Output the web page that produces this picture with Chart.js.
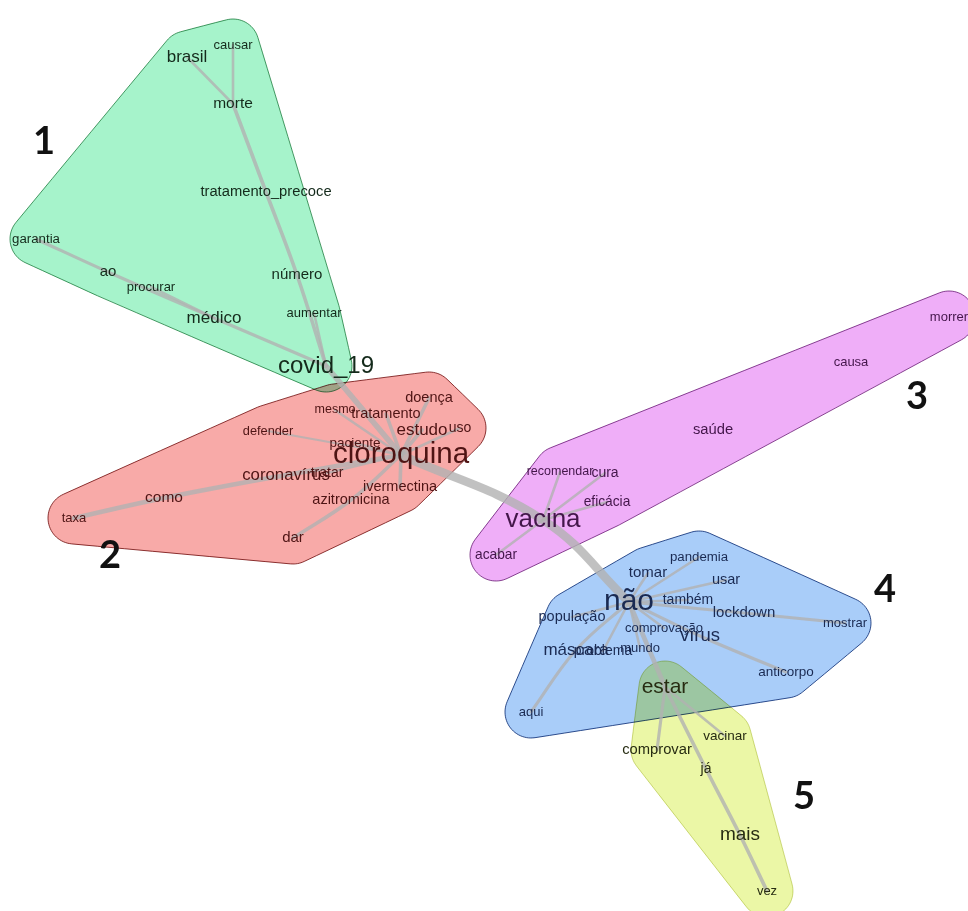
<!DOCTYPE html>
<html>
<head>
<meta charset="utf-8">
<title>Análise de similitude</title>
<script src="https://cdn.jsdelivr.net/npm/chart.js@4/dist/chart.umd.min.js"></script>
<style>
  body { margin: 0; background: #fff; }
  canvas { display: block; }
</style>
</head>
<body>
<canvas id="graph" width="968" height="911"></canvas>
<script>
// words of the similarity graph, their layout position, frequency and community
const words = ['brasil', 'causar', 'morte', 'tratamento_precoce', 'garantia', 'ao', 'procurar', 'médico', 'número', 'aumentar', 'covid_19',
  'taxa', 'como', 'defender', 'mesmo', 'tratamento', 'doença', 'estudo', 'uso', 'paciente', 'cloroquina', 'coronavírus', 'tratar', 'ivermectina', 'azitromicina', 'dar',
  'vacina', 'acabar', 'recomendar', 'cura', 'eficácia', 'saúde', 'causa', 'morrer',
  'não', 'pandemia', 'tomar', 'usar', 'também', 'lockdown', 'população', 'mostrar', 'comprovação', 'vírus', 'máscara', 'problema', 'mundo', 'anticorpo', 'aqui',
  'estar', 'vacinar', 'comprovar', 'já', 'mais', 'vez'];
const wordX = [187, 233, 233, 266, 36, 108, 151, 214, 297, 314, 326,
  74, 164, 268, 335, 386, 429, 422, 460, 355, 401, 286, 327, 400, 351, 293,
  543, 496, 560, 605, 607, 713, 851, 949,
  629, 699, 648, 726, 688, 744, 572, 845, 664, 700, 576, 603, 640, 786, 531,
  665, 725, 657, 706, 740, 767];
const wordY = [57, 45, 104, 192, 239, 272, 287, 318, 275, 313, 366,
  518, 498, 431, 410, 414, 398, 430, 428, 443, 455, 475, 473, 487, 500, 538,
  520, 555, 472, 473, 502, 430, 362, 317,
  602, 557, 573, 580, 600, 613, 617, 623, 628, 636, 650, 651, 648, 672, 712,
  687, 736, 750, 769, 835, 891];
const wordFreq = [44, 28, 38, 35, 29, 36, 28, 44, 36, 28, 72,
  28, 38, 27, 26, 34, 34, 44, 32, 30, 94, 43, 32, 34, 34, 36,
  80, 31, 26, 32, 31, 35, 28, 28,
  96, 29, 36, 34, 32, 36, 34, 28, 28, 50, 44, 32, 28, 30, 28,
  60, 30, 35, 32, 52, 28];
const wordGroup = [1, 1, 1, 1, 1, 1, 1, 1, 1, 1, 1,
  2, 2, 2, 2, 2, 2, 2, 2, 2, 2, 2, 2, 2, 2, 2,
  3, 3, 3, 3, 3, 3, 3, 3,
  4, 4, 4, 4, 4, 4, 4, 4, 4, 4, 4, 4, 4, 4, 4,
  5, 5, 5, 5, 5, 5];

// co-occurrence links, as chains of words, with their strength
const links = [
  ['brasil', 'morte'], ['causar', 'morte'],
  ['morte', 'tratamento_precoce', 'número', 'covid_19'], ['aumentar', 'covid_19'],
  ['garantia', 'ao', 'médico', 'covid_19'], ['procurar', 'médico'],
  ['covid_19', 'cloroquina'],
  ['cloroquina', 'tratamento'], ['cloroquina', 'mesmo'], ['cloroquina', 'doença'], ['cloroquina', 'estudo'],
  ['cloroquina', 'uso'], ['cloroquina', 'paciente'], ['cloroquina', 'defender'], ['cloroquina', 'tratar'],
  ['cloroquina', 'coronavírus', 'como', 'taxa'], ['cloroquina', 'ivermectina'], ['cloroquina', 'azitromicina', 'dar'],
  ['cloroquina', 'vacina', 'não'],
  ['vacina', 'recomendar'], ['vacina', 'cura'], ['vacina', 'eficácia'], ['vacina', 'acabar'],
  ['não', 'tomar'], ['não', 'pandemia'], ['não', 'usar'], ['não', 'também'], ['não', 'lockdown', 'mostrar'],
  ['não', 'vírus', 'anticorpo'], ['não', 'população'], ['não', 'máscara', 'aqui'], ['não', 'comprovação'],
  ['não', 'mundo'], ['não', 'problema'], ['não', 'estar'],
  ['estar', 'vacinar'], ['estar', 'comprovar'], ['estar', 'já', 'mais', 'vez']
];
const linkWeight = [2, 2, 3, 2, 2.5, 2, 5, 3, 2, 3, 3, 2, 2, 1.5, 2, 4, 3, 3, 8,
  2, 2, 2, 2, 2, 2, 2, 2, 2.5, 2.5, 2, 2.5, 2, 2, 2, 4, 2, 2.5, 3];

// community numbers and where they are written
const groupTags = ['1', '2', '3', '4', '5'];
const tagX = [44, 110, 917, 885, 804];
const tagY = [142, 556, 397, 590, 797];

const haloFill = ['#a6f3cb', '#f8aaa8', '#efaef8', '#a9cdf9', '#ebf7a6'];
const haloLine = ['#4e9a6a', '#8c3a3a', '#8a4a92', '#35548e', '#d2da8c'];
const textColor = ['#142a1b', '#4e1414', '#43164a', '#1a2a52', '#272c12'];
const haloPad = 26;

function fontSize(freq) { return 6 + freq / 4; }
function lineWidth(w) { return 0.6 + w; }

function convexHull(pts) {
  const p = pts.slice().sort((a, b) => a.x - b.x || a.y - b.y);
  const cross = (o, a, b) => (a.x - o.x) * (b.y - o.y) - (a.y - o.y) * (b.x - o.x);
  const lower = [], upper = [];
  for (const q of p) {
    while (lower.length >= 2 && cross(lower[lower.length - 2], lower[lower.length - 1], q) <= 0) lower.pop();
    lower.push(q);
  }
  for (let i = p.length - 1; i >= 0; i--) {
    const q = p[i];
    while (upper.length >= 2 && cross(upper[upper.length - 2], upper[upper.length - 1], q) <= 0) upper.pop();
    upper.push(q);
  }
  upper.pop(); lower.pop();
  return lower.concat(upper);
}

// hull of a community grown by a margin, with round corners
function haloOutline(group) {
  const pts = [];
  words.forEach((w, i) => { if (wordGroup[i] === group) pts.push({ x: wordX[i], y: wordY[i] }); });
  const h = convexHull(pts);
  const n = h.length;
  const out = [];
  for (let i = 0; i < n; i++) {
    const prev = h[(i - 1 + n) % n], cur = h[i], next = h[(i + 1) % n];
    const a1 = Math.atan2(-(cur.x - prev.x), cur.y - prev.y);
    const a2 = Math.atan2(-(next.x - cur.x), next.y - cur.y);
    let d = a2 - a1;
    while (d <= -Math.PI) d += 2 * Math.PI;
    while (d > Math.PI) d -= 2 * Math.PI;
    const steps = Math.max(1, Math.ceil(Math.abs(d) / (Math.PI / 18)));
    for (let s = 0; s <= steps; s++) {
      const a = a1 + d * s / steps;
      out.push({ x: cur.x + haloPad * Math.cos(a), y: cur.y + haloPad * Math.sin(a) });
    }
  }
  out.push(out[0]);
  return out;
}

const datasets = [];

datasets.push({
  type: 'scatter',
  label: 'palavras',
  data: words.map((w, i) => ({ x: wordX[i], y: wordY[i] })),
  pointRadius: 0,
  order: 0
});

links.forEach((chain, k) => {
  datasets.push({
    type: 'line',
    data: chain.map(w => { const i = words.indexOf(w); return { x: wordX[i], y: wordY[i] }; }),
    borderColor: 'rgba(178,178,178,0.8)',
    borderWidth: lineWidth(linkWeight[k]),
    borderCapStyle: 'round',
    borderJoinStyle: 'round',
    tension: 0.4,
    pointRadius: 0,
    fill: false,
    order: 1
  });
});

groupTags.forEach((t, g) => {
  datasets.push({
    type: 'line',
    isHalo: true,
    data: haloOutline(g + 1),
    backgroundColor: haloFill[g],
    borderColor: haloLine[g],
    borderWidth: 1,
    tension: 0.3,
    pointRadius: 0,
    fill: 'shape',
    order: 2
  });
});

const graphPlugin = {
  id: 'graphPlugin',
  beforeDatasetsDraw(chart) {
    chart.ctx.globalCompositeOperation = 'multiply';
  },
  beforeDatasetDraw(chart, args) {
    const ds = chart.data.datasets[args.index];
    chart.ctx.globalCompositeOperation = ds.isHalo ? 'multiply' : 'source-over';
  },
  afterDatasetsDraw(chart) {
    const ctx = chart.ctx;
    ctx.globalCompositeOperation = 'source-over';
    ctx.save();
    ctx.textAlign = 'center';
    ctx.textBaseline = 'middle';
    const meta = chart.getDatasetMeta(0);
    meta.data.forEach((pt, i) => {
      ctx.font = fontSize(wordFreq[i]) + 'px "Liberation Sans", Arial, sans-serif';
      ctx.fillStyle = textColor[wordGroup[i] - 1];
      ctx.fillText(words[i], pt.x, pt.y);
    });
    ctx.font = 'bold 38px Lato, "Liberation Sans", sans-serif';
    ctx.fillStyle = '#111';
    groupTags.forEach((t, g) => {
      ctx.fillText(t, chart.scales.x.getPixelForValue(tagX[g]), chart.scales.y.getPixelForValue(tagY[g]));
    });
    ctx.restore();
  }
};

new Chart(document.getElementById('graph'), {
  type: 'scatter',
  data: { datasets: datasets },
  options: {
    responsive: false,
    animation: false,
    devicePixelRatio: 1,
    layout: { padding: 0 },
    scales: {
      x: { type: 'linear', min: 0, max: 968, display: false },
      y: { type: 'linear', min: 0, max: 911, reverse: true, display: false }
    },
    plugins: {
      legend: { display: false },
      tooltip: { enabled: false }
    }
  },
  plugins: [graphPlugin]
});
</script>
</body>
</html>
